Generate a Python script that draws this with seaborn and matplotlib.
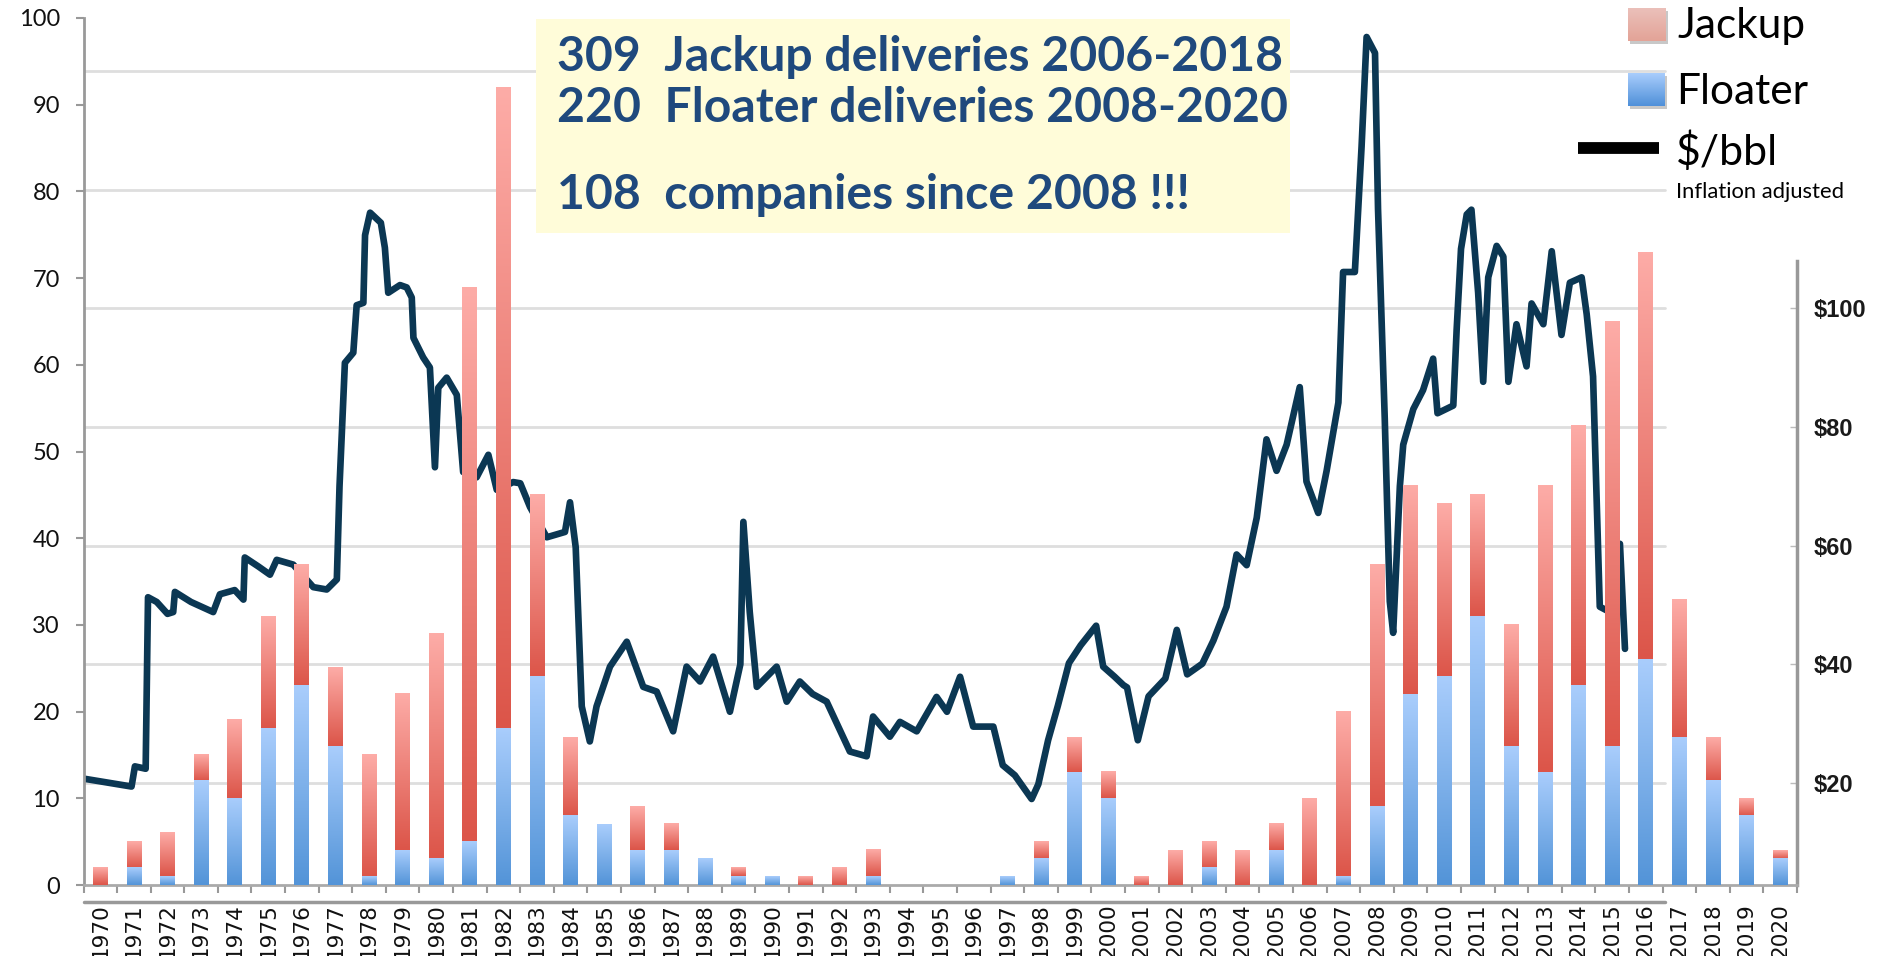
import numpy as np
import pandas as pd
import matplotlib
matplotlib.use("Agg")
import matplotlib.pyplot as plt
import seaborn as sns
from matplotlib.patches import Rectangle
from matplotlib.colors import to_rgb
from matplotlib.ticker import FixedLocator, FuncFormatter

# ---------------- data ----------------
years = [str(y) for y in range(1970, 2021)]
floater = [0, 2, 1, 12, 10, 18, 23, 16, 1, 4, 3, 5, 18, 24, 8, 7, 4, 4, 3, 1,
           1, 0, 0, 1, 0, 0, 0, 1, 3, 13, 10, 0, 0, 2, 0, 4, 0, 1, 9, 22,
           24, 31, 16, 13, 23, 16, 26, 17, 12, 8, 3]
jackup = [2, 3, 5, 3, 9, 13, 14, 9, 14, 18, 26, 64, 74, 21, 9, 0, 5, 3, 0, 1,
          0, 1, 2, 3, 0, 0, 0, 0, 2, 4, 3, 1, 4, 3, 4, 3, 10, 19, 28, 24,
          20, 14, 14, 33, 30, 49, 47, 16, 5, 2, 1]

oil_time = [1970.04, 1971.43, 1971.53, 1971.85, 1971.92, 1972.18, 1972.5, 1972.67, 1972.72, 1973.2,
            1973.86, 1974.06, 1974.5, 1974.76, 1974.8, 1975.2, 1975.55, 1975.75, 1976.24, 1976.84,
            1977.24, 1977.54, 1977.62, 1977.78, 1978.03, 1978.13, 1978.33, 1978.38, 1978.53, 1978.68,
            1978.85, 1978.97, 1979.07, 1979.42, 1979.62, 1979.77, 1979.82, 1980.11, 1980.31, 1980.46,
            1980.56, 1980.81, 1981.11, 1981.30, 1981.70, 1982.05, 1982.30, 1982.79, 1983.0, 1983.29,
            1983.79, 1984.33, 1984.48, 1984.65, 1984.83, 1985.07, 1985.27, 1985.67, 1986.17, 1986.66,
            1987.06, 1987.55, 1987.95, 1988.35, 1988.74, 1989.24, 1989.55, 1989.64, 1989.83, 1990.04,
            1990.63, 1990.93, 1991.32, 1991.7, 1992.12, 1992.81, 1993.31, 1993.5, 1994.0, 1994.3,
            1994.8, 1995.39, 1995.7, 1996.09, 1996.48, 1997.08, 1997.36, 1997.72, 1998.22, 1998.42,
            1998.71, 1999.0, 1999.33, 1999.68, 2000.14, 2000.35, 2000.69, 2000.95, 2001.06, 2001.38,
            2001.70, 2002.2, 2002.54, 2002.85, 2003.3, 2003.63, 2004.02, 2004.32, 2004.62, 2004.92,
            2005.21, 2005.51, 2005.81, 2006.2, 2006.4, 2006.75, 2007.0, 2007.35, 2007.49, 2007.84,
            2008.04, 2008.19, 2008.44, 2008.53, 2008.73, 2008.88, 2008.98, 2009.18, 2009.28, 2009.58,
            2009.87, 2010.17, 2010.3, 2010.77, 2010.87, 2011.0, 2011.17, 2011.31, 2011.51, 2011.66,
            2011.81, 2012.06, 2012.26, 2012.41, 2012.65, 2012.95, 2013.1, 2013.45, 2013.70, 2013.99,
            2014.24, 2014.59, 2014.74, 2014.93, 2015.13, 2015.43, 2015.73, 2015.88]
oil_price = [20.7, 19.4, 22.8, 22.4, 51.3, 50.5, 48.5, 48.8, 52.2, 50.5,
             48.8, 51.8, 52.5, 50.9, 58.0, 56.5, 55.1, 57.6, 56.8, 53.0,
             52.6, 54.3, 70.0, 90.8, 92.5, 100.5, 100.9, 112.3, 116.1, 115.3,
             114.4, 110.2, 102.6, 103.9, 103.5, 101.8, 95.0, 91.7, 90.0, 73.2,
             86.6, 88.3, 85.4, 72.4, 71.5, 75.3, 69.4, 70.7, 70.5, 66.5,
             61.4, 62.3, 67.3, 59.7, 32.9, 27.0, 32.9, 39.6, 43.8, 36.2,
             35.4, 28.7, 39.6, 37.1, 41.3, 32.0, 40.0, 64.0, 48.8, 36.2,
             39.6, 33.7, 37.1, 35.0, 33.7, 25.3, 24.5, 31.2, 27.8, 30.3,
             28.7, 34.5, 32.0, 37.9, 29.5, 29.5, 23.0, 21.3, 17.3, 19.8,
             27.2, 33.0, 40.2, 43.2, 46.5, 39.6, 37.9, 36.5, 36.1, 27.2,
             34.6, 37.6, 45.8, 38.3, 40.1, 44.0, 49.7, 58.5, 56.7, 64.7,
             77.9, 72.6, 77.0, 86.7, 70.8, 65.5, 72.6, 84.1, 106.1, 106.1,
             127.2, 145.7, 143.0, 116.7, 81.4, 50.6, 45.3, 70.0, 77.0, 83.0,
             86.2, 91.5, 82.3, 83.6, 96.4, 110.0, 115.8, 116.6, 102.6, 87.6,
             105.2, 110.5, 108.7, 87.6, 97.3, 90.2, 100.8, 97.3, 109.6, 95.5,
             104.3, 105.2, 99.0, 88.5, 49.7, 48.8, 60.3, 42.6]

left_ticks = [0, 10, 20, 30, 40, 50, 60, 70, 80, 90, 100]
right_ticks = [20, 40, 60, 80, 100]
grid_levels = [20, 40, 60, 80, 100, 120, 140]

box_lines = ["309  Jackup deliveries 2006-2018",
             "220  Floater deliveries 2008-2020",
             "108  companies since 2008 !!!"]

# ---------------- style ----------------
sns.set_style("white")
plt.rcParams["font.family"] = ["DejaVu Sans"]

W, H = 1878, 956
fig = plt.figure(figsize=(W / 100, H / 100), dpi=100)
ax = fig.add_axes([83.5 / W, (H - 885) / H, (1797 - 83.5) / W, (885 - 18) / H])
ax2 = ax.twinx()

df = pd.DataFrame({"year": years, "floater": floater, "jackup": jackup})
df["total"] = df["floater"] + df["jackup"]

RED_TOP, RED_BOT = "#fdaca7", "#dc5549"
BLUE_TOP, BLUE_BOT = "#a9cdfc", "#5394d8"

sns.barplot(data=df, x="year", y="total", color=RED_BOT, width=0.44,
            saturation=1, ax=ax, zorder=3)
sns.barplot(data=df, x="year", y="floater", color=BLUE_BOT, width=0.44,
            saturation=1, ax=ax, zorder=3)

n = len(years)
tot_patches = ax.patches[:n]
flo_patches = ax.patches[n:2 * n]


def gradient(top, bot, rows=96):
    a = np.linspace(0, 1, rows)[:, None]
    t, b = np.array(to_rgb(top)), np.array(to_rgb(bot))
    return (t[None, None, :] * (1 - a[:, :, None]) + b[None, None, :] * a[:, :, None])


red_img = gradient(RED_TOP, RED_BOT)
blue_img = gradient(BLUE_TOP, BLUE_BOT)

for i in range(n):
    pt, pf = tot_patches[i], flo_patches[i]
    x0, w = pt.get_x(), pt.get_width()
    pt.set_visible(False)
    pf.set_visible(False)
    if jackup[i] > 0:
        ax.imshow(red_img, extent=[x0, x0 + w, floater[i], floater[i] + jackup[i]],
                  aspect="auto", origin="upper", interpolation="bilinear", zorder=3)
    if floater[i] > 0:
        ax.imshow(blue_img, extent=[x0, x0 + w, 0, floater[i]],
                  aspect="auto", origin="upper", interpolation="bilinear", zorder=3)

# oil price line on secondary axis
oil_x = np.array(oil_time) - 1970 - 0.5
sns.lineplot(x=oil_x, y=oil_price, ax=ax2, color="#0b3753", linewidth=4.8,
             sort=False, estimator=None, legend=False, zorder=2)

for g in grid_levels:
    ax2.axhline(g, xmin=0, xmax=0.923, color="#dedede", lw=2, zorder=0)

# axes stacking: bars above line
ax.set_zorder(ax2.get_zorder() + 1)
ax.patch.set_visible(False)

ax.set_xlim(-0.5, n - 0.5)
ax.set_ylim(0, 100)
ax2.set_ylim(2.81, 148.9)
ax2.set_xlim(-0.5, n - 0.5)

# left axis
ax.set_xlabel("")
ax.set_ylabel("")
ax2.set_ylabel("")
ax.yaxis.set_major_locator(FixedLocator(left_ticks))
ax.tick_params(axis="y", direction="out", length=6, width=1.5, color="#999999",
               pad=11, labelsize=17, labelcolor="#111111", left=True)
for lab in ax.get_yticklabels():
    lab.set_fontfamily("Lato")

ax.set_xticks(range(n))
ax.set_xticklabels(years, rotation=90)
ax.set_xticks(np.arange(-0.5, n, 1), minor=True)
ax.tick_params(axis="x", which="major", length=0, pad=13, labelsize=15.5,
               labelcolor="#111111")
ax.tick_params(axis="x", which="minor", direction="out", length=6, width=1.5,
               color="#999999", bottom=True)

for s in ["top", "right"]:
    ax.spines[s].set_visible(False)
ax.spines["left"].set_color("#999999")
ax.spines["left"].set_linewidth(2)
ax.spines["bottom"].set_color("#aaaaaa")
ax.spines["bottom"].set_linewidth(2)
ax.axhline(-1.95, xmin=0, xmax=0.923, color="#999999", lw=2.5, clip_on=False, zorder=1)

# right axis
for s in ["top", "left", "bottom"]:
    ax2.spines[s].set_visible(False)
ax2.spines["right"].set_color("#999999")
ax2.spines["right"].set_linewidth(2.5)
ax2.spines["right"].set_bounds(2.81, 108)
ax2.yaxis.set_major_locator(FixedLocator(right_ticks))
ax2.yaxis.set_major_formatter(FuncFormatter(lambda v, p: f"${v:.0f}"))
ax2.tick_params(axis="y", direction="in", length=5, width=1, color="#bbbbbb",
                pad=12, labelsize=17, labelcolor="#1a1a1a")
for lab in ax2.get_yticklabels():
    lab.set_fontfamily("Liberation Sans")
    lab.set_fontweight("bold")

# ---------------- annotation box ----------------
fig.add_artist(Rectangle((536 / W, 1 - 233 / H), (1290 - 536) / W, (233 - 19) / H,
                         transform=fig.transFigure, facecolor="#fffcd9",
                         edgecolor="none", zorder=5))

renderer = fig.canvas.get_renderer()


def fit_text(x_px, base_px, s, target_w, **kw):
    t = fig.text(x_px / W, 1 - base_px / H, s, ha="left", va="baseline", zorder=6, **kw)
    w = t.get_window_extent(renderer).width
    t.set_fontsize(t.get_fontsize() * target_w / w)
    return t


t2 = fit_text(557, 122, box_lines[1], 730, fontsize=30, family="Lato",
              weight="bold", color="#1f497d")
fs = t2.get_fontsize()
fig.text(557 / W, 1 - 71 / H, box_lines[0], ha="left", va="baseline", zorder=6,
         fontsize=fs, family="Lato", weight="bold", color="#1f497d")
fig.text(557 / W, 1 - 209 / H, box_lines[2], ha="left", va="baseline", zorder=6,
         fontsize=fs, family="Lato", weight="bold", color="#1f497d")


# ---------------- legend ----------------
def legend_patch(x0, x1, y0, y1, top, bot):
    fig.add_artist(Rectangle(((x0 + 2) / W, 1 - (y1 + 3) / H),
                             (x1 - x0) / W, (y1 - y0) / H, transform=fig.transFigure,
                             facecolor="#c8c8c8", edgecolor="none", zorder=5))
    lax = fig.add_axes([x0 / W, 1 - y1 / H, (x1 - x0) / W, (y1 - y0) / H], zorder=6)
    lax.imshow(gradient(top, bot), aspect="auto", origin="upper", interpolation="bilinear")
    lax.set_axis_off()


legend_patch(1628, 1666, 8, 41, "#ebc0ba", "#e3a397")
legend_patch(1628, 1665, 73, 106, "#a9cdfc", "#4f90d9")
fig.add_artist(plt.Line2D([1578 / W, 1659 / W], [1 - 148 / H, 1 - 148 / H],
                          transform=fig.transFigure, color="black", lw=8.5,
                          solid_capstyle="butt", zorder=6))

fit_text(1677, 38, "Jackup", 128, fontsize=26, family="Lato", color="black")
fit_text(1676, 104, "Floater", 132, fontsize=26, family="Lato", color="black")
fit_text(1676, 165, "$/bbl", 102, fontsize=26, family="Lato", color="black")
fit_text(1676, 198, "Inflation adjusted", 168, fontsize=12, family="Lato", color="black")

fig.savefig("out.png", dpi=100, facecolor="white")
